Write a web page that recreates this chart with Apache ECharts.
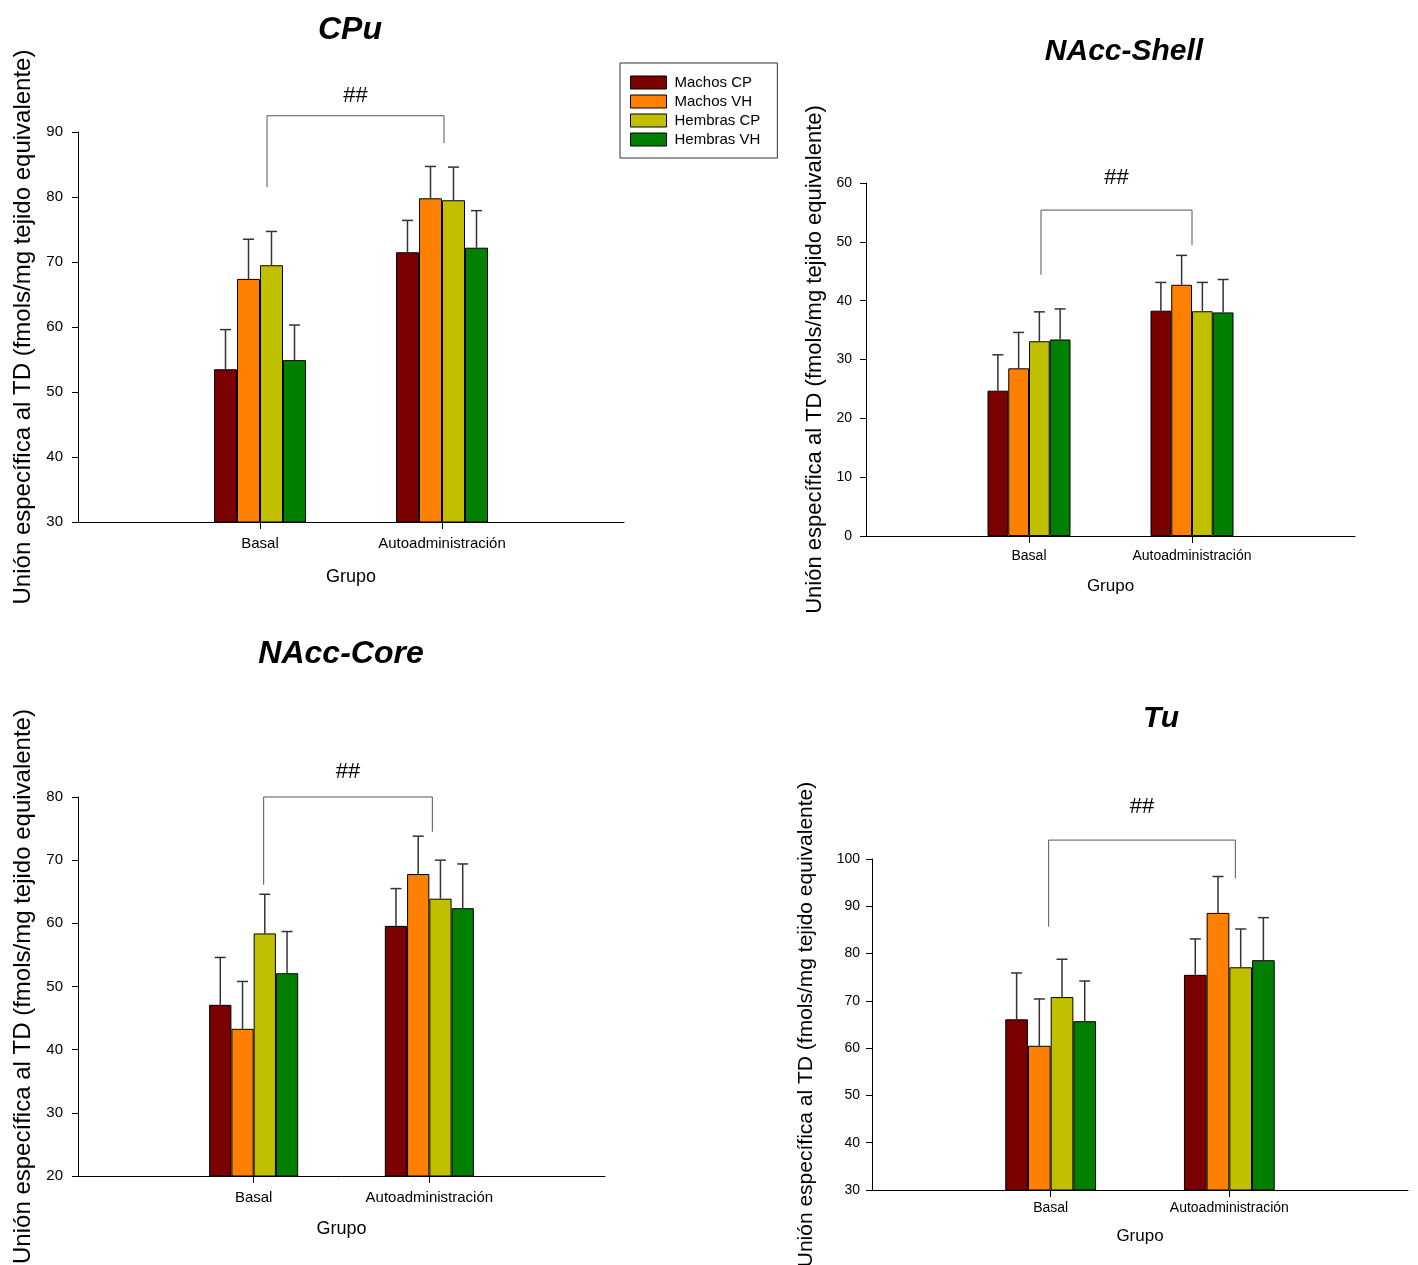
<!DOCTYPE html>
<html>
<head>
<meta charset="utf-8">
<script src="https://cdn.jsdelivr.net/npm/echarts@6/dist/echarts.min.js"></script>
<style>
html,body{margin:0;padding:0;background:#fff;}
#chart{width:1418px;height:1265px;}
</style>
</head>
<body>
<div id="chart"></div>
<script>
// ---------- DATA ----------
const categories = ['Basal', 'Autoadministración'];
const seriesNames = ['Machos CP', 'Machos VH', 'Hembras CP', 'Hembras VH'];
const yAxisTitle = 'Unión específica al TD (fmols/mg tejido equivalente)';
const xAxisTitle = 'Grupo';
const sigLabel = '##';

const panelTitles = ['CPu', 'NAcc-Shell', 'NAcc-Core', 'Tu'];

// means per series: [Basal, Autoadministración]
const cpuMeans   = [[53.5, 71.5], [67.4, 79.8], [69.5, 79.5], [54.9, 72.2]];
const cpuErrs    = [[6.1, 4.9],   [6.1, 4.9],   [5.2, 5.1],   [5.4, 5.7]];
const shellMeans = [[24.7, 38.3], [28.5, 42.7], [33.1, 38.2], [33.4, 38.0]];
const shellErrs  = [[6.1, 4.8],   [6.1, 5.0],   [5.0, 4.9],   [5.2, 5.6]];
const coreMeans  = [[47.1, 59.6], [43.3, 67.8], [58.4, 63.9], [52.1, 62.4]];
const coreErrs   = [[7.5, 5.9],   [7.5, 6.0],   [6.2, 6.1],   [6.6, 7.0]];
const tuMeans    = [[66.1, 75.5], [60.5, 88.6], [70.8, 77.1], [65.7, 78.6]];
const tuErrs     = [[9.8, 7.6],   [9.9, 7.7],   [8.0, 8.1],   [8.5, 9.0]];

// significance bracket: [left foot, top, right foot] in axis units
const cpuBracket   = [81.5, 92.5, 88.3];
const shellBracket = [44.4, 55.4, 49.4];
const coreBracket  = [66.1, 80.0, 74.5];
const tuBracket    = [85.7, 104.0, 95.9];

// y-axis scales
const cpuAxis   = {min: 30, max: 90, interval: 10};
const shellAxis = {min: 0, max: 60, interval: 10};
const coreAxis  = {min: 20, max: 80, interval: 10};
const tuAxis    = {min: 30, max: 100, interval: 10};

// ---------- STYLE / LAYOUT ----------
const colors = ['#7B0000', '#FF8000', '#C0C000', '#007F00'];
const FONT = '"Liberation Sans", Arial, sans-serif';

const panels = [
  {title: panelTitles[0], means: cpuMeans, errs: cpuErrs, bracket: cpuBracket, axis: cpuAxis,
   grid: {left: 78, top: 132, width: 546, height: 390}, barW: 23, tickFs: 15, yMargin: 15, nameFs: 24, nameGap: 43, grupoFs: 18, grupoGap: 46, labMargin: 14,
   titleFs: 32, titleX: 350, titleTop: 14, brL: 7, brR: 2, hashGap: 20},
  {title: panelTitles[1], means: shellMeans, errs: shellErrs, bracket: shellBracket, axis: shellAxis,
   grid: {left: 866, top: 183, width: 489, height: 353}, barW: 20.75, tickFs: 14, yMargin: 14, nameFs: 22, nameGap: 40, grupoFs: 17, grupoGap: 42, labMargin: 13,
   titleFs: 30, titleX: 1124, titleTop: 37, brL: 12, brR: 0, hashGap: 32},
  {title: panelTitles[2], means: coreMeans, errs: coreErrs, bracket: coreBracket, axis: coreAxis,
   grid: {left: 78, top: 797, width: 527, height: 379}, barW: 22.25, tickFs: 15, yMargin: 15, nameFs: 24, nameGap: 43, grupoFs: 18, grupoGap: 44, labMargin: 14,
   titleFs: 32, titleX: 341, titleTop: 638, brL: 10, brR: 3, hashGap: 25},
  {title: panelTitles[3], means: tuMeans, errs: tuErrs, bracket: tuBracket, axis: tuAxis,
   grid: {left: 872, top: 859, width: 536, height: 331}, barW: 22.7, tickFs: 14, yMargin: 12, nameFs: 21, nameGap: 55, grupoFs: 17, grupoGap: 38, labMargin: 11,
   titleFs: 30, titleX: 1161, titleTop: 704, brL: -2, brR: 6, hashGap: 33}
];

const xCats = [''].concat(categories).concat(['']);
const showMid = (i) => i === 1 || i === 2;

const option = {
  animation: false,
  backgroundColor: '#fff',
  textStyle: {fontFamily: FONT},
  title: panels.map(p => ({
    text: p.title, left: p.titleX, top: p.titleTop, textAlign: 'center', padding: 0,
    textStyle: {fontFamily: FONT, fontSize: p.titleFs, fontWeight: 'bold', fontStyle: 'italic', color: '#000'}
  })),
  legend: {
    data: seriesNames, orient: 'vertical', left: 620, top: 63,
    padding: [12, 17, 11, 10], itemGap: 4, itemWidth: 36, itemHeight: 13, icon: 'rect',
    borderColor: '#333', borderWidth: 1, backgroundColor: '#fff',
    textStyle: {fontFamily: FONT, fontSize: 15, color: '#000', padding: [0, 0, 0, 3]},
    itemStyle: {borderColor: '#000', borderWidth: 1}
  },
  grid: panels.map(p => Object.assign({containLabel: false, outerBoundsMode: 'none'}, p.grid)),
  xAxis: panels.map((p, k) => ({
    type: 'category', gridIndex: k, data: xCats, boundaryGap: false,
    name: xAxisTitle, nameLocation: 'middle', nameGap: p.grupoGap,
    nameTextStyle: {fontFamily: FONT, fontSize: p.grupoFs, color: '#000'},
    axisLine: {lineStyle: {color: '#000', width: 1}},
    axisTick: {show: true, length: 7, interval: showMid, lineStyle: {color: '#000'}},
    axisLabel: {interval: showMid, margin: p.labMargin, fontFamily: FONT, fontSize: p.tickFs, color: '#000'},
    splitLine: {show: false}
  })),
  yAxis: panels.map((p, k) => ({
    type: 'value', gridIndex: k, min: p.axis.min, max: p.axis.max, interval: p.axis.interval,
    name: yAxisTitle, nameLocation: 'middle', nameGap: p.nameGap,
    nameTextStyle: {fontFamily: FONT, fontSize: p.nameFs, color: '#000'},
    axisLine: {show: true, lineStyle: {color: '#000', width: 1}},
    axisTick: {show: true, length: 6, lineStyle: {color: '#000'}},
    axisLabel: {margin: p.yMargin, fontFamily: FONT, fontSize: p.tickFs, color: '#000'},
    splitLine: {show: false}
  })),
  series: []
};

panels.forEach((p, k) => {
  seriesNames.forEach((name, s) => {
    option.series.push({
      name: name, type: 'bar', xAxisIndex: k, yAxisIndex: k,
      barWidth: p.barW, barGap: '0%',
      itemStyle: {color: colors[s], borderColor: '#000', borderWidth: 1},
      data: ['-'].concat(p.means[s]).concat(['-'])
    });
  });
  // error bars (upper only)
  const errData = [];
  seriesNames.forEach((name, s) => {
    categories.forEach((c, ci) => {
      errData.push([ci + 1, p.means[s][ci], s, p.errs[s][ci]]);
    });
  });
  option.series.push({
    type: 'custom', xAxisIndex: k, yAxisIndex: k, z: 5, silent: true,
    encode: {x: 0, y: 1},
    data: errData,
    renderItem: function (params, api) {
      const cat = api.value(0), mean = api.value(1), s = api.value(2), err = api.value(3);
      const p0 = api.coord([cat, mean]);
      const p1 = api.coord([cat, mean + err]);
      const x = p0[0] + (s - 1.5) * p.barW;
      const cap = 5.5;
      return {
        type: 'group',
        children: [
          {type: 'line', shape: {x1: x, y1: p0[1], x2: x, y2: p1[1]}, style: {stroke: '#333', lineWidth: 1.5}},
          {type: 'line', shape: {x1: x - cap, y1: p1[1], x2: x + cap, y2: p1[1]}, style: {stroke: '#333', lineWidth: 1.5}}
        ]
      };
    }
  });
  // significance bracket
  option.series.push({
    type: 'custom', xAxisIndex: k, yAxisIndex: k, z: 4, silent: true, clip: false,
    encode: {x: 0, y: 1},
    data: [[1, p.bracket[0], p.bracket[1], p.bracket[2]]],
    renderItem: function (params, api) {
      const lf = api.coord([1, api.value(1)]);
      const top = api.coord([1, api.value(2)]);
      const rf = api.coord([2, api.value(3)]);
      const xl = lf[0] + p.brL, xr = rf[0] + p.brR;
      return {
        type: 'group',
        children: [
          {type: 'polyline', shape: {points: [[xl, lf[1]], [xl, top[1]], [xr, top[1]], [xr, rf[1]]]},
           style: {stroke: '#555', lineWidth: 1, fill: null}},
          {type: 'text', x: (xl + xr) / 2, y: top[1] - p.hashGap,
           style: {text: sigLabel, font: '22px ' + FONT, fill: '#000', align: 'center', verticalAlign: 'middle'}}
        ]
      };
    }
  });
});

const chart = echarts.init(document.getElementById('chart'), null, {renderer: 'canvas'});
chart.setOption(option);
</script>
</body>
</html>
